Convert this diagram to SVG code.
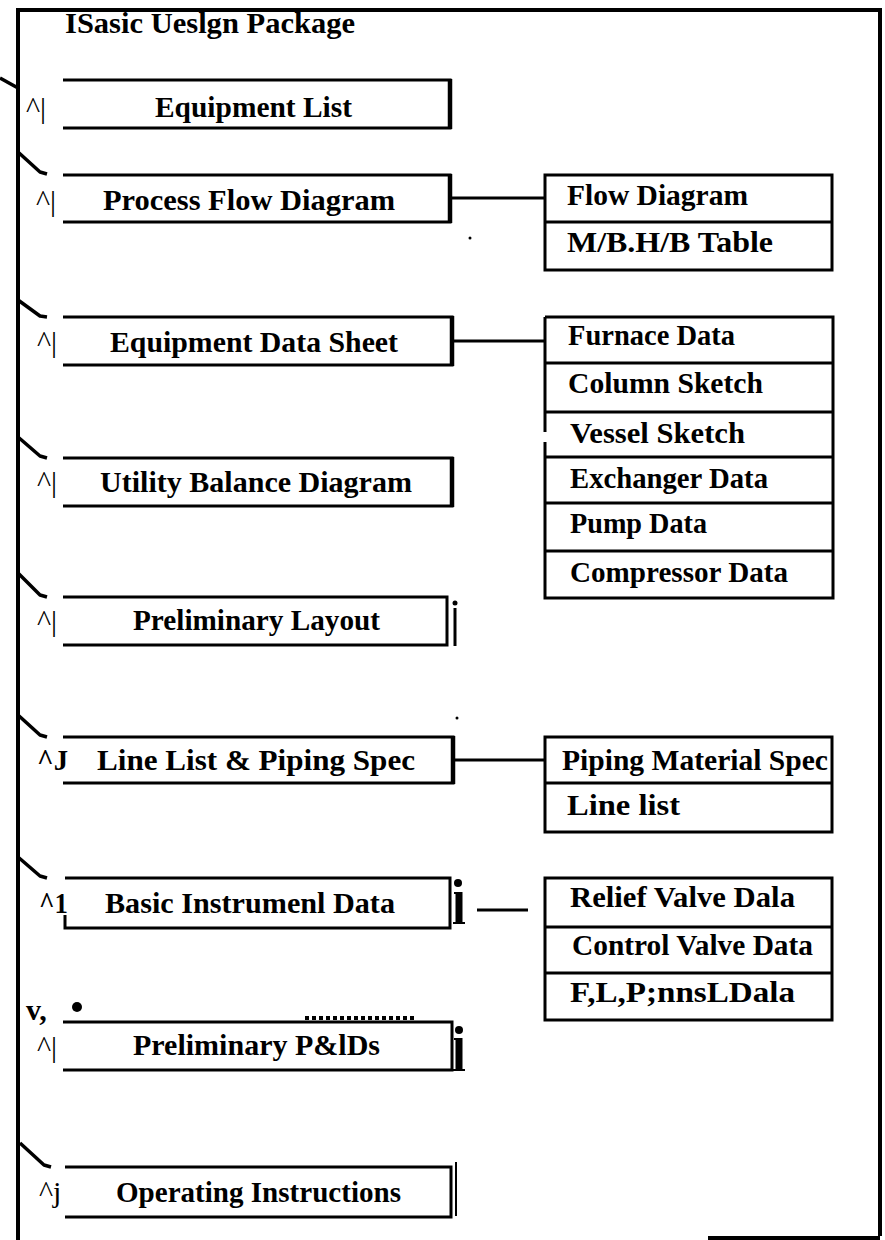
<svg xmlns="http://www.w3.org/2000/svg" width="885" height="1240" viewBox="0 0 885 1240">
  <style>
    .frame { fill: none; stroke: #000; stroke-width: 4; }
    .box { fill: none; stroke: #000; stroke-width: 3; stroke-linejoin: miter; }
    .edge { fill: none; stroke: #000; stroke-width: 4.5; }
    .thin { fill: none; stroke: #000; stroke-width: 2; }
    .tick { fill: none; stroke: #000; stroke-width: 3; }
    .branch { fill: none; stroke: #000; stroke-width: 3.5; stroke-linejoin: round; }
    .link { fill: none; stroke: #000; stroke-width: 3; }
    .lbl { font-family: "Liberation Serif", "Times New Roman", serif; font-weight: bold; font-size: 30px; fill: #000; }
    .stub { font-family: "Liberation Serif", "Times New Roman", serif; font-weight: normal; font-size: 30px; fill: #000; }
    .stubb { font-family: "Liberation Serif", "Times New Roman", serif; font-weight: bold; font-size: 30px; fill: #000; }
  </style>
  <rect width="885" height="1240" fill="#fff"/>

  <!-- outer package frame -->
  <g id="package-frame">
    <path class="frame" d="M18,1240 V10 H880 V1236"/>
    <path class="frame" d="M708,1238 H880"/>
    <text class="lbl" x="65" y="33" textLength="290" lengthAdjust="spacingAndGlyphs">ISasic Ueslgn Package</text>
  </g>

  <!-- branch ticks from the frame into each item -->
  <g id="connectors">
    <polyline class="branch" points="0,78 18,88"/>
    <polyline class="branch" points="18,152 40,172 47,174"/>
    <polyline class="branch" points="18,300 40,316 47,317"/>
    <polyline class="branch" points="18,437 40,456 47,458"/>
    <polyline class="branch" points="18,573 40,595 47,597"/>
    <polyline class="branch" points="18,715 40,735 47,737"/>
    <polyline class="branch" points="18,857 40,876 47,878"/>
    <polyline class="branch" points="20,1143 44,1165 51,1167"/>
    <line class="link" x1="450" y1="198" x2="545" y2="198"/>
    <line class="link" x1="452" y1="341" x2="545" y2="341"/>
    <line class="link" x1="453" y1="760" x2="545" y2="760"/>
    <line class="link" x1="477" y1="910" x2="528" y2="910" stroke-width="4"/>
  </g>

  <g id="equipment-list">
    <path class="box" d="M63,80 H450 V128 H63"/>
    <line class="edge" x1="450" y1="79" x2="450" y2="129"/>
    <text class="stub" x="26" y="118">^|</text>
    <text class="lbl" x="155" y="117" textLength="197" lengthAdjust="spacingAndGlyphs">Equipment List</text>
  </g>

  <g id="process-flow-diagram">
    <path class="box" d="M63,175 H450 V222 H63"/>
    <line class="edge" x1="450" y1="174" x2="450" y2="223"/>
    <text class="stub" x="36" y="211">^|</text>
    <text class="lbl" x="103" y="210" textLength="292" lengthAdjust="spacingAndGlyphs">Process Flow Diagram</text>
  </g>

  <g id="equipment-data-sheet">
    <path class="box" d="M63,317 H452 V365 H63"/>
    <line class="edge" x1="452" y1="316" x2="452" y2="366"/>
    <text class="stub" x="37" y="352">^|</text>
    <text class="lbl" x="110" y="352" textLength="288" lengthAdjust="spacingAndGlyphs">Equipment Data Sheet</text>
  </g>

  <g id="utility-balance-diagram">
    <path class="box" d="M63,458 H452 V506 H63"/>
    <line class="edge" x1="452" y1="457" x2="452" y2="507"/>
    <text class="stub" x="37" y="492">^|</text>
    <text class="lbl" x="100" y="492" textLength="312" lengthAdjust="spacingAndGlyphs">Utility Balance Diagram</text>
  </g>

  <g id="preliminary-layout">
    <path class="box" d="M63,597 H447 V645 H63"/>
    <line class="tick" x1="455" y1="608" x2="455" y2="646"/>
    <circle cx="455" cy="603" r="2.5"/>
    <text class="stub" x="37" y="631">^|</text>
    <text class="lbl" x="133" y="630" textLength="247" lengthAdjust="spacingAndGlyphs">Preliminary Layout</text>
  </g>

  <g id="line-list-piping-spec">
    <path class="box" d="M63,737 H453 V783 H63"/>
    <line class="edge" x1="453" y1="736" x2="453" y2="784"/>
    <text class="stubb" x="37" y="770" textLength="31" lengthAdjust="spacingAndGlyphs">^J</text>
    <text class="lbl" x="97" y="770" textLength="318" lengthAdjust="spacingAndGlyphs">Line List &amp; Piping Spec</text>
  </g>

  <g id="basic-instrument-data">
    <path class="box" d="M65,878 H450 V928 H65 V915"/>
    <line x1="459" y1="892" x2="459" y2="923" stroke="#000" stroke-width="7"/>
    <line x1="454" y1="893" x2="462" y2="893" stroke="#000" stroke-width="2"/>
    <line x1="453" y1="923" x2="465" y2="923" stroke="#000" stroke-width="2"/>
    <circle cx="458" cy="883" r="4"/>
    <text class="stubb" x="39" y="913" textLength="29" lengthAdjust="spacingAndGlyphs">^1</text>
    <text class="lbl" x="105" y="913" textLength="290" lengthAdjust="spacingAndGlyphs">Basic Instrumenl Data</text>
  </g>

  <g id="preliminary-pids">
    <path class="box" d="M63,1022 H452 V1070 H63"/>
    <line x1="305" y1="1018" x2="415" y2="1018" stroke="#000" stroke-width="4" stroke-dasharray="4 3"/>
    <line x1="459" y1="1038" x2="459" y2="1070" stroke="#000" stroke-width="7"/>
    <line x1="454" y1="1039" x2="462" y2="1039" stroke="#000" stroke-width="2"/>
    <line x1="453" y1="1070" x2="465" y2="1070" stroke="#000" stroke-width="2"/>
    <circle cx="459" cy="1030" r="4"/>
    <circle cx="77" cy="1007" r="5"/>
    <text class="stubb" x="26" y="1020">v,</text>
    <text class="stub" x="37" y="1057">^|</text>
    <text class="lbl" x="133" y="1055" textLength="247" lengthAdjust="spacingAndGlyphs">Preliminary P&amp;lDs</text>
  </g>

  <g id="operating-instructions">
    <path class="box" d="M65,1167 H451 V1217 H65"/>
    <line class="thin" x1="456" y1="1162" x2="456" y2="1216"/>
    <text class="stub" x="39" y="1202">^j</text>
    <text class="lbl" x="116" y="1202" textLength="285" lengthAdjust="spacingAndGlyphs">Operating Instructions</text>
  </g>

  <g id="flow-diagram-table">
    <rect class="box" x="545" y="175" width="287" height="95"/>
    <line class="box" x1="545" y1="222" x2="832" y2="222"/>
    <text class="lbl" x="567" y="205" textLength="181" lengthAdjust="spacingAndGlyphs">Flow Diagram</text>
    <text class="lbl" x="567" y="252" textLength="206" lengthAdjust="spacingAndGlyphs">M/B.H/B Table</text>
    <circle cx="470" cy="238" r="1.5"/>
  </g>

  <g id="equipment-data-table">
    <path class="box" d="M545,317 H833 V598 H545 V442 M545,432 V317"/>
    <line class="box" x1="545" y1="363" x2="833" y2="363"/>
    <line class="box" x1="545" y1="412" x2="833" y2="412"/>
    <line class="box" x1="545" y1="457" x2="833" y2="457"/>
    <line class="box" x1="545" y1="503" x2="833" y2="503"/>
    <line class="box" x1="545" y1="551" x2="833" y2="551"/>
    <text class="lbl" x="568" y="345" textLength="167" lengthAdjust="spacingAndGlyphs">Furnace Data</text>
    <text class="lbl" x="568" y="393" textLength="195" lengthAdjust="spacingAndGlyphs">Column Sketch</text>
    <text class="lbl" x="570" y="443" textLength="175" lengthAdjust="spacingAndGlyphs">Vessel Sketch</text>
    <text class="lbl" x="570" y="488" textLength="198" lengthAdjust="spacingAndGlyphs">Exchanger Data</text>
    <text class="lbl" x="570" y="533" textLength="137" lengthAdjust="spacingAndGlyphs">Pump Data</text>
    <text class="lbl" x="570" y="582" textLength="218" lengthAdjust="spacingAndGlyphs">Compressor Data</text>
  </g>

  <g id="piping-table">
    <rect class="box" x="545" y="737" width="287" height="95"/>
    <line class="box" x1="545" y1="783" x2="832" y2="783"/>
    <text class="lbl" x="562" y="770" textLength="266" lengthAdjust="spacingAndGlyphs">Piping Material Spec</text>
    <text class="lbl" x="567" y="815" textLength="113" lengthAdjust="spacingAndGlyphs">Line list</text>
    <circle cx="457" cy="718" r="1.5"/>
  </g>

  <g id="instrument-data-table">
    <rect class="box" x="545" y="878" width="287" height="142"/>
    <line class="box" x1="545" y1="927" x2="832" y2="927"/>
    <line class="box" x1="545" y1="973" x2="832" y2="973"/>
    <text class="lbl" x="570" y="907" textLength="225" lengthAdjust="spacingAndGlyphs">Relief Valve Dala</text>
    <text class="lbl" x="572" y="955" textLength="241" lengthAdjust="spacingAndGlyphs">Control Valve Data</text>
    <text class="lbl" x="570" y="1002" textLength="225" lengthAdjust="spacingAndGlyphs">F,L,P;nnsLDala</text>
  </g>
</svg>
